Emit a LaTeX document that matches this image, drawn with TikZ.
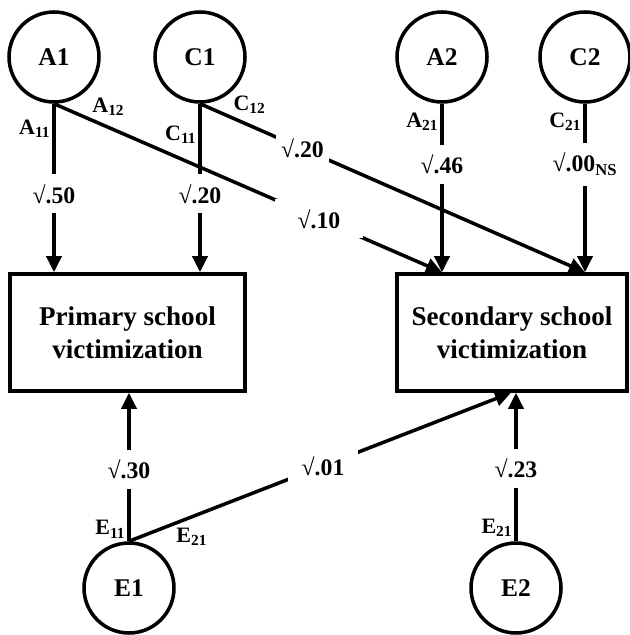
\documentclass[tikz,border=0pt]{standalone}
\usepackage{fontspec}
\setmainfont{Liberation Serif}
\usetikzlibrary{arrows.meta,positioning}

\begin{document}
\begin{tikzpicture}[
  factor/.style={circle,draw,line width=2pt,minimum size=1.8cm,inner sep=0pt,font=\fontsize{14.5}{17}\selectfont\bfseries},
  outcome/.style={rectangle,draw,line width=2pt,minimum width=4.7cm,minimum height=2.34cm,align=center,font=\fontsize{15.4}{18.8}\selectfont\bfseries},
  link/.style={line width=2pt},
  arr/.style={link,-{Triangle[length=0.32cm,width=0.3cm]}},
  coef/.style={fill=white,inner xsep=1pt,inner ysep=0.2cm,font=\fontsize{13.5}{15}\selectfont\bfseries},
  lbl/.style={inner sep=1pt,font=\fontsize{12.5}{14}\selectfont\bfseries}]

\useasboundingbox (0,0) rectangle (12.58,12.7);

\node[factor] (A1) at (1.08,11.56) {A1};
\node[factor] (C1) at (4.0,11.56) {C1};
\node[factor] (A2) at (8.84,11.56) {A2};
\node[factor] (C2) at (11.7,11.56) {C2};
\node[outcome] (prim) at (2.55,6.05) {Primary school\\victimization};
\node[outcome,minimum width=4.6cm] (sec) at (10.24,6.05) {Secondary school\\victimization};
\node[factor] (E1) at (2.58,0.94) {E1};
\node[factor] (E2) at (10.32,0.94) {E2};

% primary school paths
\draw[arr] (A1.south) -- node[coef,pos=0.535] (cA11) {√.50} node[lbl,pos=0.15,left] (lA11) {A\textsubscript{11}} (A1 |- prim.north);
\draw[arr] (C1.south) -- node[coef,pos=0.535] (cC11) {√.20} node[lbl,pos=0.186,left] (lC11) {C\textsubscript{11}} (C1 |- prim.north);
\draw[arr] (E1.north) -- node[coef,pos=0.483] (cE11) {√.30} node[lbl,pos=0.08,left] (lE11) {E\textsubscript{11}} (E1 |- prim.south);

% secondary school paths
\draw[arr] (A1.south) -- node[coef,pos=0.683,inner xsep=0.45cm] (cA12) {√.10} node[lbl,pos=0.09,anchor=south west] (lA12) {A\textsubscript{12}} (A2 |- sec.north);
\draw[arr] (C1.south) -- node[coef,pos=0.266,inner xsep=3pt,inner ysep=4pt] (cC12) {√.20} node[lbl,pos=0.078,anchor=south west] (lC12) {C\textsubscript{12}} (C2 |- sec.north);
\draw[arr] (A2.south) -- node[coef,pos=0.36] (cA21) {√.46} node[lbl,pos=0.105,left] (lA21) {A\textsubscript{21}} (A2 |- sec.north);
\draw[arr] (C2.south) -- node[coef,pos=0.36] (cC21) {√.00\textsubscript{NS}} node[lbl,pos=0.105,left] (lC21) {C\textsubscript{21}} (C2 |- sec.north);
\draw[arr] (E1.north) -- node[coef,pos=0.508,inner xsep=0.27cm,inner ysep=0.15cm] (cE21) {√.01} node[lbl,pos=0.115,anchor=north west] (lE21) {E\textsubscript{21}} ([xshift=-0.1cm]E2 |- sec.south);
\draw[arr] (E2.north) -- node[coef,pos=0.49] (cE22) {√.23} node[lbl,pos=0.09,left] (lE22) {E\textsubscript{21}} (E2 |- sec.south);

\end{tikzpicture}
\end{document}
